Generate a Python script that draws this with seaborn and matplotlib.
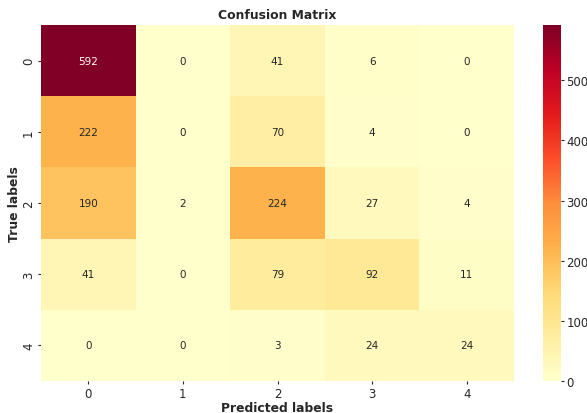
import matplotlib
matplotlib.use("Agg")
import matplotlib.pyplot as plt
import numpy as np
import pandas as pd
import seaborn as sns

# Confusion matrix counts (rows: true class, columns: predicted class)
class_labels = ["0", "1", "2", "3", "4"]
row_0 = [592, 0, 41, 6, 0]
row_1 = [222, 0, 70, 4, 0]
row_2 = [190, 2, 224, 27, 4]
row_3 = [41, 0, 79, 92, 11]
row_4 = [0, 0, 3, 24, 24]

cm = pd.DataFrame([row_0, row_1, row_2, row_3, row_4],
                  index=class_labels, columns=class_labels)

sns.set_style("ticks")
plt.rcParams["font.family"] = ["DejaVu Sans"]
plt.rcParams["text.color"] = "#262626"
plt.rcParams["axes.labelcolor"] = "#262626"
plt.rcParams["xtick.color"] = "#262626"
plt.rcParams["ytick.color"] = "#262626"

fig = plt.figure(figsize=(5.87, 4.14), dpi=100)
ax = fig.add_axes([0.0698, 0.0773, 0.806, 0.860])
cax = fig.add_axes([0.925, 0.0773, 0.031, 0.860])

sns.heatmap(cm, annot=True, fmt="d", cmap="YlOrRd", ax=ax, cbar_ax=cax,
            annot_kws={"size": 7.5})

ax.set_title("Confusion Matrix", fontsize=8.9, fontweight="bold", pad=5)
ax.set_xlabel("Predicted labels", fontsize=8.9, fontweight="bold", labelpad=0.8)
ax.set_ylabel("True labels", fontsize=8.9, fontweight="bold", labelpad=0.5)
ax.tick_params(axis="both", labelsize=8.5, length=2.2, pad=2)
cax.tick_params(labelsize=8.5, length=2.2, pad=1.5)
for s in cax.spines.values():
    s.set_visible(False)

fig.savefig("out.png", dpi=100)
